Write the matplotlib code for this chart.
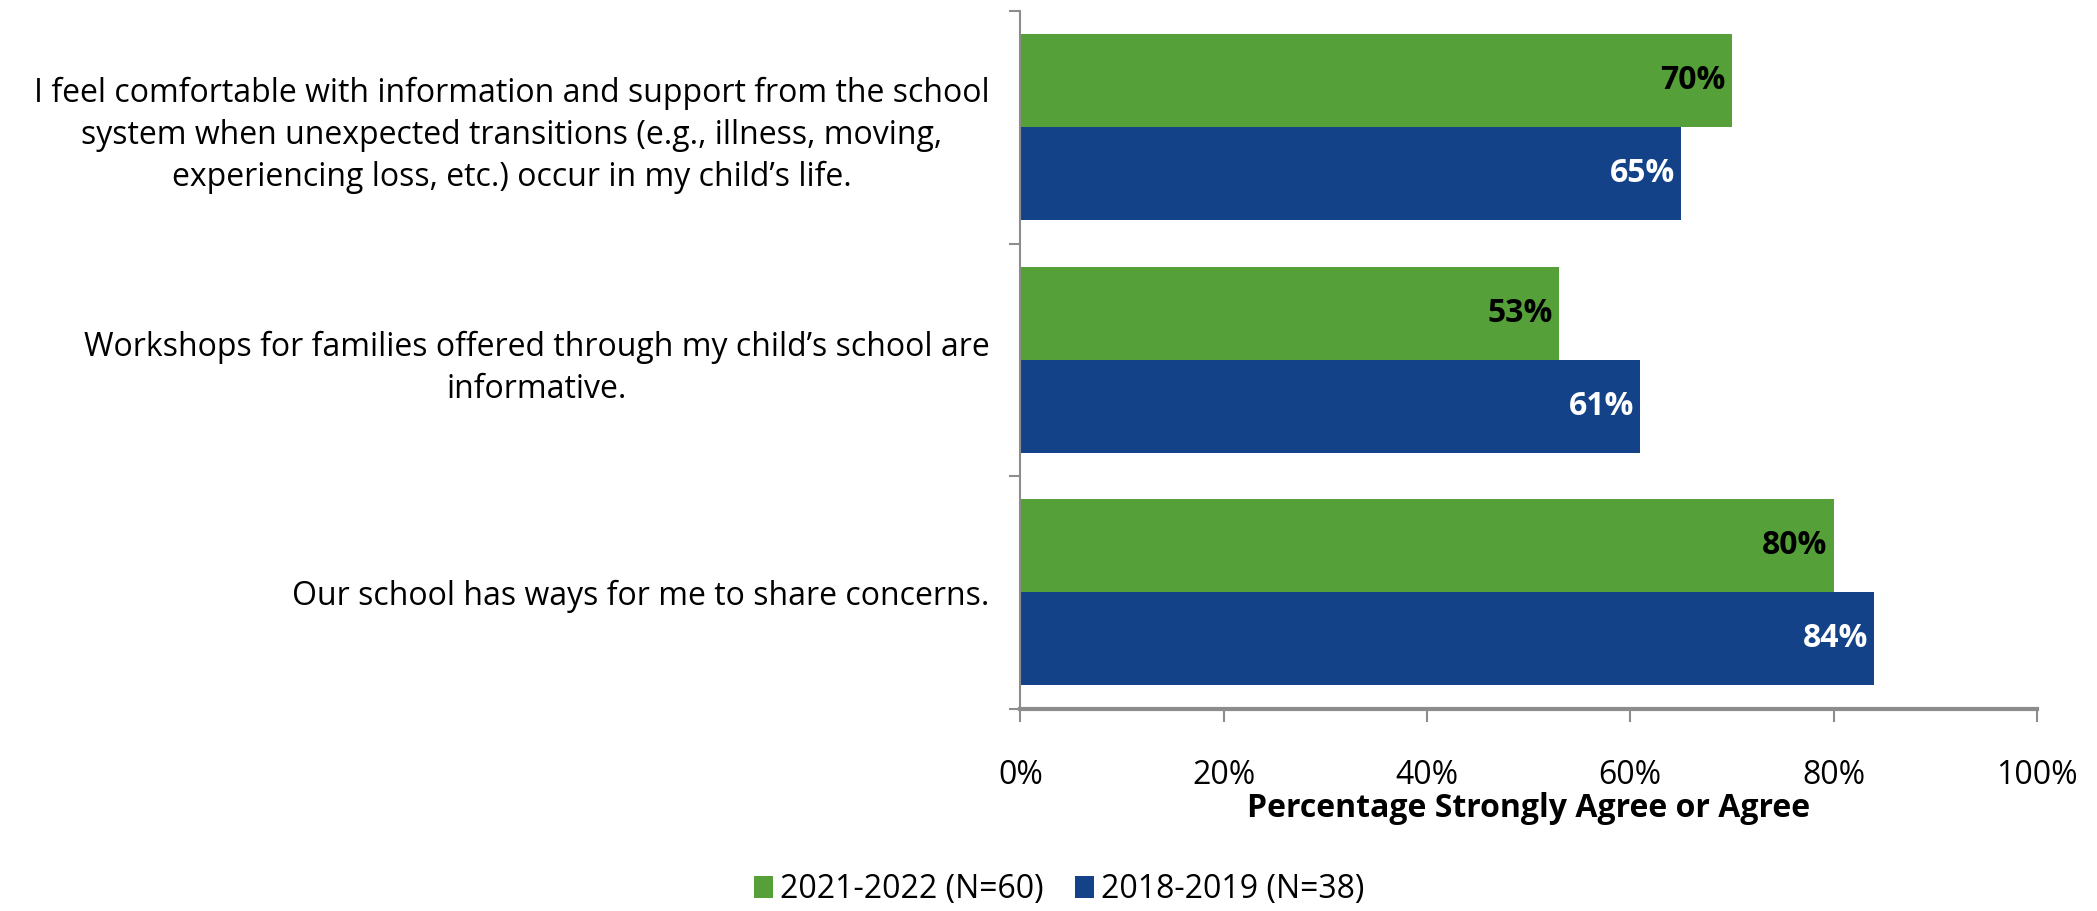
import matplotlib
matplotlib.use("Agg")
import matplotlib.pyplot as plt
import numpy as np
from matplotlib.ticker import FuncFormatter, FixedLocator

plt.rcParams['font.family'] = ['Open Sans', 'DejaVu Sans']

categories = [
    "I feel comfortable with information and support from the school\nsystem when unexpected transitions (e.g., illness, moving,\nexperiencing loss, etc.) occur in my child\u2019s life.",
    "Workshops for families offered through my child\u2019s school are\ninformative.",
    "Our school has ways for me to share concerns.",
]
series_names = ["2021-2022 (N=60)", "2018-2019 (N=38)"]
values_2122 = [70, 53, 80]
values_1819 = [65, 61, 84]
xticks = [0, 20, 40, 60, 80, 100]
xlabel = "Percentage Strongly Agree or Agree"

green = "#55A038"
blue = "#134289"
gray = "#8C8C8C"

fig = plt.figure(figsize=(20.97, 9.11), dpi=100)
ax = fig.add_axes([0.4866, 0.222, 0.4847, 0.766])

n = len(categories)
y = np.arange(n)
h = 0.4
b1 = ax.barh(y - h / 2, values_2122, height=h, color=green, label=series_names[0])
b2 = ax.barh(y + h / 2, values_1819, height=h, color=blue, label=series_names[1])

fs = 23
for rect, v in zip(b1, values_2122):
    ax.text(v - 0.6, rect.get_y() + rect.get_height() / 2, f"{v}%", ha='right', va='center',
            fontsize=fs, fontweight='bold', color='black')
for rect, v in zip(b2, values_1819):
    ax.text(v - 0.6, rect.get_y() + rect.get_height() / 2, f"{v}%", ha='right', va='center',
            fontsize=fs, fontweight='bold', color='white')

ax.set_ylim(n - 0.5, -0.5)
ax.set_xlim(0, 100)
ax.set_yticks(y)
ax.set_yticklabels(categories, fontsize=fs, ha='right', va='center_baseline',
                   multialignment='center', linespacing=1.35)
ax.tick_params(axis='y', length=0, pad=22)
ax.yaxis.set_minor_locator(FixedLocator(np.arange(-0.5, n, 1.0)))
ax.tick_params(axis='y', which='minor', length=8, color=gray, width=1.5)

ax.set_xticks(xticks)
ax.xaxis.set_major_formatter(FuncFormatter(lambda v, p: f"{int(v)}%"))
ax.tick_params(axis='x', length=9.5, color=gray, width=1.5, labelsize=fs, pad=27)
ax.set_xlabel(xlabel, fontsize=fs, fontweight='bold', labelpad=0)

for s in ['top', 'right']:
    ax.spines[s].set_visible(False)
ax.spines['left'].set_color(gray)
ax.spines['left'].set_linewidth(1.5)
ax.spines['bottom'].set_color(gray)
ax.spines['bottom'].set_linewidth(3)

fig.legend(handles=[b1, b2], labels=series_names, loc='center', bbox_to_anchor=(0.505, 0.0235),
           ncol=2, frameon=False, fontsize=fs, handlelength=0.6, handleheight=0.7,
           handletextpad=0.2, columnspacing=1.0)

fig.savefig("out.png", dpi=100)
